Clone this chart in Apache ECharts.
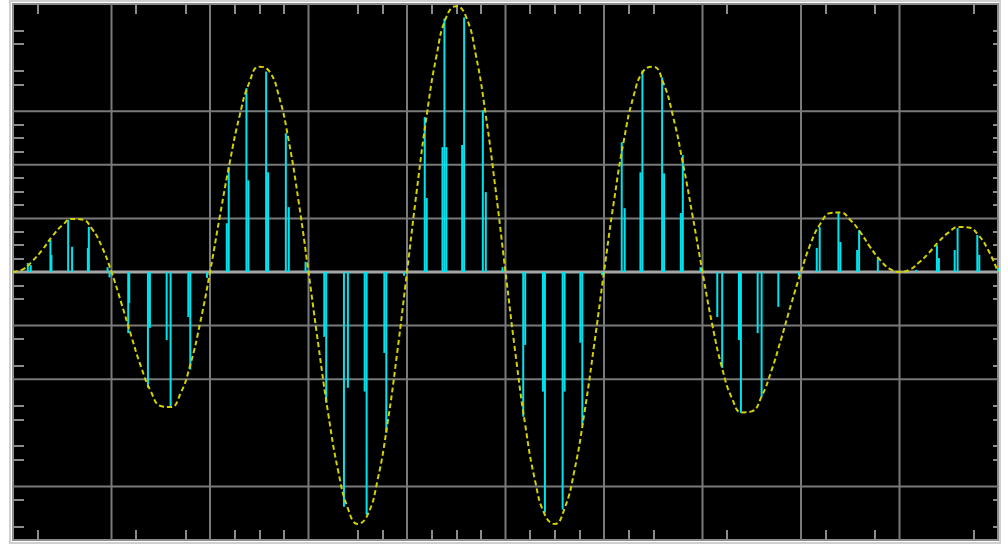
<!DOCTYPE html>
<html>
<head>
<meta charset="utf-8">
<title>Sampled signal</title>
<script src="https://cdn.jsdelivr.net/npm/echarts@6/dist/echarts.min.js"></script>
<style>
  html, body { margin: 0; padding: 0; background: #fff; }
  #chart { width: 1008px; height: 544px; }
</style>
</head>
<body>
<div id="chart"></div>
<script>
// yellow dashed curve, one value every envStep divisions from x = 0
const envStep = 0.1
const envY = [
  0, 0.05, 0.21, 0.42, 0.67, 0.87, 0.99, 0.98, 0.81, 0.48,
  0, -0.58, -1.19, -1.77, -2.23, -2.50, -2.52, -2.27, -1.73, -0.95,
  0, 1.04, 2.04, 2.91, 3.54, 3.83, 3.75, 3.28, 2.44, 1.31,
  0, -1.36, -2.64, -3.70, -4.41, -4.70, -4.53, -3.89, -2.85, -1.51,
  0, 1.53, 2.92, 4.04, 4.76, 4.96, 4.76, 4.04, 2.92, 1.53,
  0, -1.51, -2.85, -3.89, -4.53, -4.70, -4.41, -3.70, -2.64, -1.36,
  0, 1.31, 2.44, 3.28, 3.75, 3.83, 3.54, 2.91, 2.04, 1.04,
  0, -0.99, -1.80, -2.36, -2.62, -2.60, -2.32, -1.84, -1.24, -0.60,
  0, 0.54, 0.91, 1.10, 1.11, 0.97, 0.75, 0.47, 0.23, 0.06,
  0, 0.04, 0.18, 0.36, 0.57, 0.74, 0.84, 0.83, 0.69, 0.41,
  0
]

// cyan sample stems
const stemX = [
  0.15, 0.18, 0.38, 0.39, 0.56, 0.60, 0.76, 0.77, 0.96,
  0.98, 1.17, 1.18, 1.37, 1.39, 1.56, 1.60, 1.78, 1.80, 1.97,
  2.17, 2.19, 2.37, 2.39, 2.57, 2.59, 2.77, 2.80, 2.97,
  3.16, 3.18, 3.36, 3.40, 3.57, 3.59, 3.77, 3.79, 3.97,
  4.18, 4.20, 4.36, 4.38, 4.40, 4.56, 4.58, 4.77, 4.80, 4.97,
  5.18, 5.20, 5.38, 5.40, 5.58, 5.60, 5.76, 5.78, 5.98,
  6.18, 6.21, 6.37, 6.39, 6.59, 6.61, 6.78, 6.80, 6.98,
  7.15, 7.20, 7.37, 7.39, 7.56, 7.60, 7.77, 7.98,
  8.16, 8.19, 8.38, 8.40, 8.57, 8.59, 8.78,
  9.17, 9.38, 9.40, 9.56, 9.59, 9.79, 9.81, 10.0
]
const stemY = [
  0.17, 0.13, 0.60, 0.32, 0.97, 0.47, 0.45, 0.84, 0.09,
  -0.10, -1.14, -0.58, -2.16, -1.04, -1.27, -2.51, -0.84, -1.82, -0.11,
  0.91, 1.96, 3.43, 1.71, 3.74, 1.86, 2.59, 1.21, 0.19,
  -1.21, -2.44, -4.38, -2.16, -2.23, -4.53, -1.51, -3.00, -0.07,
  2.89, 1.38, 2.33, 4.73, 2.33, 2.37, 4.75, 3.02, 1.49, 0.09,
  -2.70, -1.36, -2.23, -4.49, -4.43, -2.23, -1.32, -2.85, -0.06,
  2.42, 1.19, 1.86, 3.76, 3.63, 1.84, 1.10, 2.18, 0.09,
  -0.84, -1.79, -1.27, -2.63, -1.14, -2.33, -0.65, -0.07,
  0.45, 0.84, 1.10, 0.56, 0.41, 0.78, 0.28,
  0.04, 0.50, 0.26, 0.41, 0.82, 0.69, 0.32, 0.07
]

// grid divisions and the small tick marks on the frame
const gridX = [1, 2, 3, 4, 5, 6, 7, 8, 9]
const gridY = [3, 2, 1, -1, -2, -4]
const xTicks = [0.25, 1.25, 1.75, 2.25, 2.5, 2.75, 3.5, 3.75, 4.25, 4.5, 4.75,
  5.25, 5.5, 5.75, 6.25, 6.5, 7.25, 8.25, 8.75, 9.75]
const yTicks = [4.5, 4.25, 3.75, 3.5, 2.75, 2.5, 2.25, 1.75, 1.5, 1.25, 0.75, 0.5, 0.25,
  -0.25, -0.5, -1.25, -1.75, -2.5, -2.75, -3.25, -3.5, -4.25, -4.75]

const chart = echarts.init(document.getElementById('chart'))

const tickStyle = { color: '#8c8c8c', width: 2 }
function xAxisOpt(pos) {
  return {
    type: 'value', min: 0, max: 10, position: pos,
    axisLine: { show: false, onZero: false },
    axisTick: { show: true, inside: true, length: 10, customValues: xTicks, lineStyle: tickStyle },
    axisLabel: { show: false },
    splitLine: { show: false }
  }
}
function yAxisOpt(pos, len) {
  return {
    type: 'value', min: -5, max: 5, position: pos,
    axisLine: { show: false, onZero: false },
    axisTick: { show: true, inside: true, length: len, customValues: yTicks, lineStyle: tickStyle },
    axisLabel: { show: false },
    splitLine: { show: false }
  }
}

// one straight segment between two data points
function seg(api, p, q, color, width) {
  const a = api.coord(p)
  const b = api.coord(q)
  return { type: 'line', shape: { x1: a[0], y1: a[1], x2: b[0], y2: b[1] },
    style: { stroke: color, lineWidth: width } }
}

chart.setOption({
  animation: false,
  backgroundColor: '#fff',
  grid: {
    left: 13, right: 10, top: 4, bottom: 4,
    show: true, backgroundColor: '#000',
    borderColor: '#8c8c8c', borderWidth: 2
  },
  graphic: [{
    type: 'rect', shape: { x: 10, y: 1, width: 990, height: 542 },
    style: { fill: 'none', stroke: '#cfcfcf', lineWidth: 2 }, silent: true
  }],
  xAxis: [xAxisOpt('bottom'), xAxisOpt('top')],
  yAxis: [yAxisOpt('left', 11), yAxisOpt('right', 5)],
  series: [
    {
      // vertical division lines
      type: 'custom', silent: true, z: 1,
      data: gridX,
      renderItem: (params, api) => seg(api, [api.value(0), -5], [api.value(0), 5], '#7a7a7a', 2)
    },
    {
      // horizontal division lines
      type: 'custom', silent: true, z: 1,
      data: gridY.map(v => [0, v]),
      renderItem: (params, api) => seg(api, [0, api.value(1)], [10, api.value(1)], '#7a7a7a', 2)
    },
    {
      // zero line
      type: 'custom', silent: true, z: 1,
      data: [[0, 0]],
      renderItem: (params, api) => seg(api, [0, 0], [10, 0], '#a6a6a6', 3)
    },
    {
      name: 'samples',
      type: 'custom', silent: true, z: 3,
      data: stemX.map((x, i) => [x, stemY[i]]),
      renderItem: (params, api) => seg(api, [api.value(0), 0], [api.value(0), api.value(1)], '#00e4f0', 2)
    },
    {
      name: 'signal',
      type: 'line', z: 4,
      data: envY.map((v, i) => [i * envStep, v]),
      smooth: true,
      showSymbol: false,
      lineStyle: { color: '#d2d200', width: 2, type: [5, 3] }
    }
  ]
})
</script>
</body>
</html>
